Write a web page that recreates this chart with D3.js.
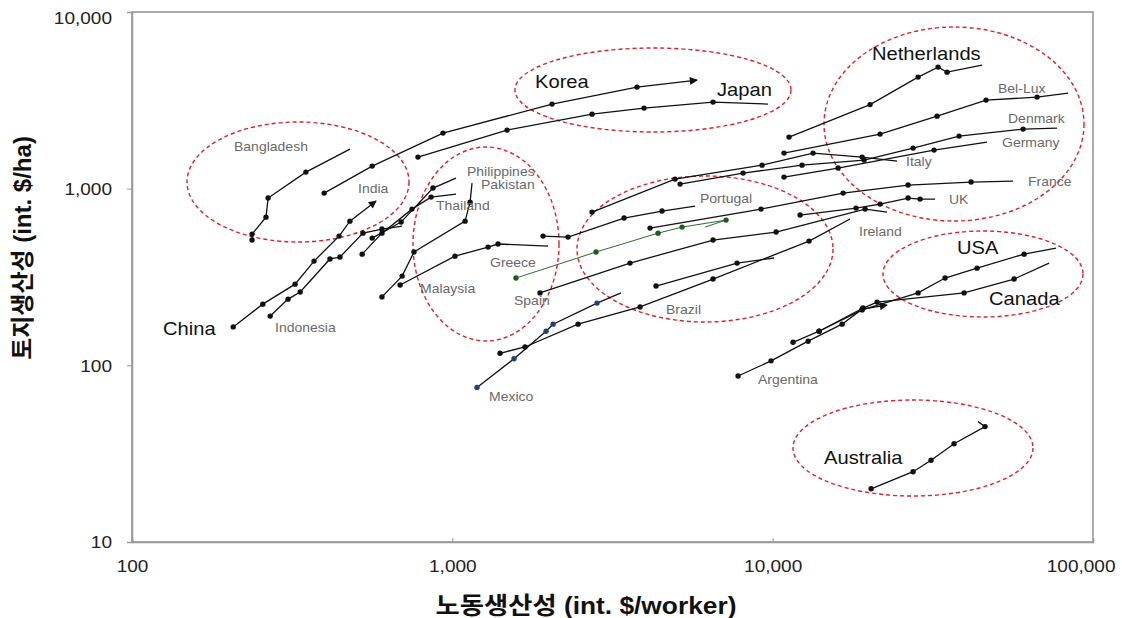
<!DOCTYPE html>
<html>
<head>
<meta charset="utf-8">
<script src="https://cdn.jsdelivr.net/npm/d3@7/dist/d3.min.js"></script>
<style>
  body { margin: 0; background: #fff; }
  text { font-family: "Liberation Sans", Arial, "Noto Sans CJK KR", sans-serif; }
</style>
</head>
<body>
<svg id="chart" width="1122" height="618"></svg>
<script>
// labour productivity (int. $/worker) = x, land productivity (int. $/ha) = y
var bangladeshX = [237, 237, 262, 266, 349, 479];
var bangladeshY = [512, 553, 690, 885, 1241, 1675];
var chinaX = [207, 256, 323, 370, 443, 479, 578];
var chinaY = [165, 222, 288, 389, 539, 655, 851];
var indonesiaX = [270, 307, 335, 415, 446, 526, 603, 697];
var indonesiaY = [190, 237, 260, 400, 410, 560, 591, 614];
var thailandX = [523, 603, 748, 858, 1027];
var thailandY = [426, 560, 766, 896, 932];
var philippinesX = [562, 692, 870, 1027];
var philippinesY = [525, 647, 1008, 1148];
var pakistanX = [603, 697, 759, 1096, 1136, 1152];
var pakistanY = [244, 320, 438, 655, 839, 1075];
var koreaX = [398, 562, 935, 2048, 3772, 5807];
var koreaY = [944, 1342, 2063, 3010, 3757, 4116];
var japanX = [781, 1482, 2730, 3967, 6514, 9674];
var japanY = [1509, 2145, 2642, 2858, 3090, 3010];
var malaysiaX = [687, 1019, 1293, 1389, 1990];
var malaysiaY = [285, 415, 467, 486, 473];
var portugalX = [1919, 2297, 3436, 4515, 5725];
var portugalY = [539, 532, 682, 747, 797];
var greeceX = [1580, 2809, 4387, 5214, 7154, 6150];
var greeceY = [312, 438, 560, 606, 664, 606];
var spainX = [1878, 3587, 6514, 10250, 19430, 22760];
var spainY = [257, 379, 512, 568, 766, 737];
var mexicoX = [1194, 1558, 1961, 2063, 2829, 3362];
var mexicoY = [75, 109, 156, 171, 225, 257];
var irelandX = [1409, 1686, 2469, 3855, 6514, 12990, 17440];
var irelandY = [117, 127, 171, 214, 308, 505, 673];
var brazilX = [4324, 7742, 10100];
var brazilY = [281, 379, 405];
var netherlandsX = [11250, 20140, 28440, 32840, 35030, 45050];
var netherlandsY = [1958, 2991, 4280, 4875, 4567, 5005];
var belluxX = [10850, 21640, 32600, 46360, 66900, 83600];
var belluxY = [1590, 2037, 2574, 3172, 3298, 3474];
var denmarkX = [5140, 8083, 12350, 19290, 27440, 38190, 60500, 77260];
var denmarkY = [1061, 1225, 1359, 1451, 1697, 1984, 2174, 2202];
var italyX = [2730, 4957, 9266, 13370, 19020, 24450];
var italyY = [737, 1133, 1359, 1590, 1509, 1432];
var germanyX = [10850, 16000, 31890, 46690];
var germanyY = [1163, 1308, 1653, 1834];
var franceX = [4142, 9199, 16590, 26470, 41630, 56300];
var franceY = [598, 766, 944, 1048, 1090, 1104];
var ukX = [12180, 18210, 21640, 26470, 28850, 32140];
var ukY = [709, 776, 818, 885, 873, 873];
var argentinaX = [7798, 9885, 12900, 16470, 19020, 22760];
var argentinaY = [87, 106, 137, 171, 208, 219];
var usaX = [11580, 13960, 19020, 28440, 34530, 43460, 60930, 76690];
var usaY = [135, 156, 206, 257, 312, 355, 426, 461];
var canadaX = [13960, 19150, 21180, 39590, 56710, 72940];
var canadaY = [156, 211, 228, 257, 308, 379];
var australiaX = [20290, 27440, 31220, 36840, 46030, 43770];
var australiaY = [20, 25, 29, 36, 45, 48];

var xTicks = [100, 1000, 10000, 100000];
var yTicks = [10, 100, 1000, 10000];

var series = [
  { name: "Bangladesh", x: bangladeshX, y: bangladeshY },
  { name: "China", x: chinaX, y: chinaY, arrow: true },
  { name: "Indonesia", x: indonesiaX, y: indonesiaY },
  { name: "Thailand", x: thailandX, y: thailandY },
  { name: "Philippines", x: philippinesX, y: philippinesY },
  { name: "Pakistan", x: pakistanX, y: pakistanY },
  { name: "Korea", x: koreaX, y: koreaY, arrow: true },
  { name: "Japan", x: japanX, y: japanY },
  { name: "Malaysia", x: malaysiaX, y: malaysiaY },
  { name: "Portugal", x: portugalX, y: portugalY },
  { name: "Greece", x: greeceX, y: greeceY, line: "#2f6a2f", dot: "#1f5a1f" },
  { name: "Spain", x: spainX, y: spainY },
  { name: "Mexico", x: mexicoX, y: mexicoY, dot: "#23407a" },
  { name: "Ireland", x: irelandX, y: irelandY },
  { name: "Brazil", x: brazilX, y: brazilY },
  { name: "Netherlands", x: netherlandsX, y: netherlandsY },
  { name: "Bel-Lux", x: belluxX, y: belluxY },
  { name: "Denmark", x: denmarkX, y: denmarkY },
  { name: "Italy", x: italyX, y: italyY },
  { name: "Germany", x: germanyX, y: germanyY },
  { name: "France", x: franceX, y: franceY },
  { name: "UK", x: ukX, y: ukY },
  { name: "Argentina", x: argentinaX, y: argentinaY, arrow: true },
  { name: "USA", x: usaX, y: usaY },
  { name: "Canada", x: canadaX, y: canadaY },
  { name: "Australia", x: australiaX, y: australiaY }
];

// annotation layout (pixels): text labels and the dashed group rings
var labelLayout = [
  ["China", 163, 329, 1], ["Korea", 535, 82, 1], ["Japan", 717, 90, 1],
  ["Netherlands", 872, 54, 1], ["USA", 957, 248, 1], ["Canada", 989, 299, 1],
  ["Australia", 824, 458, 1],
  ["Bangladesh", 234, 146, 0], ["India", 358, 188, 0], ["Philippines", 467, 171, 0],
  ["Pakistan", 481, 184, 0], ["Thailand", 436, 205, 0], ["Greece", 490, 262, 0],
  ["Malaysia", 420, 288, 0], ["Spain", 514, 300, 0], ["Mexico", 489, 396, 0],
  ["Indonesia", 275, 327, 0], ["Portugal", 700, 198, 0], ["Brazil", 666, 309, 0],
  ["Argentina", 758, 379, 0], ["Ireland", 859, 231, 0], ["Italy", 906, 161, 0],
  ["Bel-Lux", 998, 88, 0], ["Denmark", 1008, 118, 0], ["Germany", 1002, 142, 0],
  ["France", 1028, 181, 0], ["UK", 949, 199, 0]
];
var ringLayout = [
  [298, 182, 111, 60], [653, 90, 138, 42], [954, 124, 130, 97], [486, 244, 73, 97],
  [705, 249, 128, 73], [983, 274, 100, 43], [913, 448, 120, 48]
];

(function() {
  var svg = d3.select("#chart");
  var plotL = 132, plotR = 1093, plotT = 12, plotB = 542;
  var stretch = 1.12;

  var x = d3.scaleLog().domain([100, 100000]).range([plotL, plotR]);
  var y = d3.scaleLog().domain([10, 10000]).range([plotB, plotT]);

  svg.append("defs").append("marker")
    .attr("id", "arrow")
    .attr("viewBox", "0 0 10 10")
    .attr("refX", 9).attr("refY", 5)
    .attr("markerWidth", 9).attr("markerHeight", 8)
    .attr("markerUnits", "userSpaceOnUse")
    .attr("orient", "auto")
    .append("path").attr("d", "M0,0L10,5L0,10Z").attr("fill", "#111");

  // plot frame
  svg.append("rect")
    .attr("x", plotL).attr("y", plotT)
    .attr("width", plotR - plotL).attr("height", plotB - plotT)
    .attr("fill", "none").attr("stroke", "#999").attr("stroke-width", 1.6);

  // axes
  var fmt = d3.format(",");
  var gx = svg.append("g").attr("transform", "translate(0," + plotB + ")")
    .call(d3.axisBottom(x).tickValues(xTicks).tickFormat(fmt).tickSize(-4).tickPadding(0));
  var gy = svg.append("g").attr("transform", "translate(" + plotL + ",0)")
    .call(d3.axisLeft(y).tickValues(yTicks).tickFormat(fmt).tickSize(5).tickPadding(0));
  [gx, gy].forEach(function(g) {
    g.select(".domain").attr("stroke", "#999").attr("stroke-width", 1.6);
    g.selectAll(".tick line").attr("stroke", "#999");
    g.selectAll(".tick text").attr("fill", "#222").style("font-size", "17px");
  });
  gx.selectAll(".tick text")
    .attr("y", null).attr("dy", null)
    .attr("text-anchor", d => d === 100000 ? "end" : "middle")
    .attr("transform", d => "translate(" + (d === 100000 ? 22 : 0) + ",30) scale(" + stretch + ",1)");
  gy.selectAll(".tick text")
    .attr("x", null).attr("dy", "0.35em")
    .attr("transform", d => "translate(-20," + (d === 10000 ? 6 : 0) + ") scale(" + stretch + ",1)");

  // axis titles
  svg.append("text")
    .attr("transform", "translate(586,614) scale(" + stretch + ",1)")
    .attr("text-anchor", "middle")
    .style("font-size", "23.5px").style("font-weight", "bold").attr("fill", "#111")
    .text("노동생산성 (int. $/worker)");
  svg.append("text")
    .attr("transform", "translate(31,248) rotate(-90)")
    .attr("text-anchor", "middle")
    .style("font-size", "24px").style("font-weight", "bold").attr("fill", "#111")
    .text("토지생산성 (int. $/ha)");

  // dashed group rings
  svg.append("g").selectAll("ellipse")
    .data(ringLayout).enter().append("ellipse")
    .attr("cx", d => d[0]).attr("cy", d => d[1])
    .attr("rx", d => d[2]).attr("ry", d => d[3])
    .attr("fill", "none").attr("stroke", "#e0202a")
    .attr("stroke-width", 1.4).attr("stroke-dasharray", "4,3");

  // country paths
  var line = d3.line().x(d => x(d[0])).y(d => y(d[1]));
  var countries = svg.append("g").selectAll("g")
    .data(series).enter().append("g");

  countries.append("path")
    .attr("d", s => line(s.x.map((v, i) => [v, s.y[i]])))
    .attr("fill", "none")
    .attr("stroke", s => s.line || "#111")
    .attr("stroke-width", s => s.line ? 1 : 1.3)
    .attr("marker-end", s => s.arrow ? "url(#arrow)" : null);

  countries.selectAll("circle")
    .data(s => s.x.slice(0, -1).map((v, i) => ({ x: v, y: s.y[i], c: s.dot || "#111" })))
    .enter().append("circle")
    .attr("cx", d => x(d.x)).attr("cy", d => y(d.y))
    .attr("r", 2.7).attr("fill", d => d.c);

  // country labels
  svg.append("g").selectAll("text")
    .data(labelLayout).enter().append("text")
    .attr("transform", d => "translate(" + d[1] + "," + d[2] + ") scale(" + stretch + ",1)")
    .attr("dy", "0.36em")
    .style("font-size", d => d[3] ? "18px" : "12.5px")
    .attr("fill", d => d[3] ? "#111" : "#6a6a6a")
    .text(d => d[0]);
})();
</script>
</body>
</html>
